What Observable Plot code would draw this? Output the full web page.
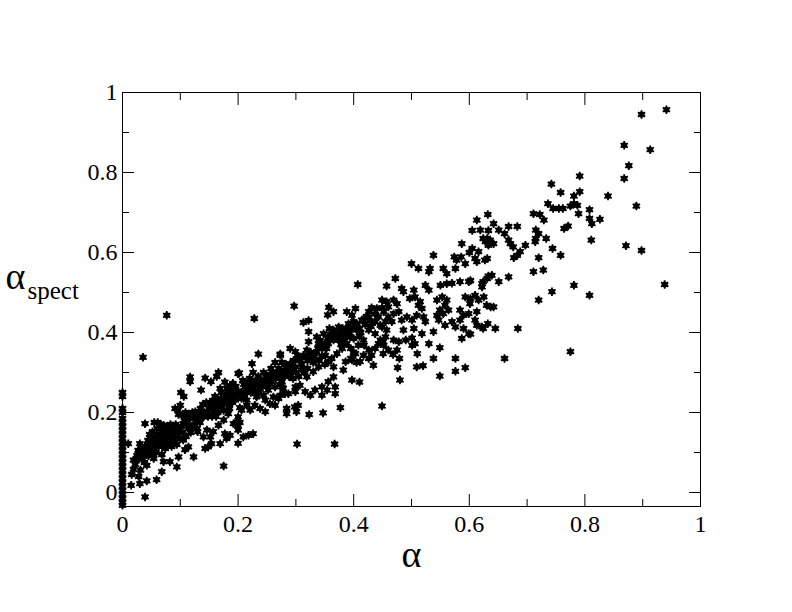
<!DOCTYPE html>
<html>
<head>
<meta charset="utf-8">
<script src="https://cdn.jsdelivr.net/npm/d3@7"></script>
<script src="https://cdn.jsdelivr.net/npm/@observablehq/plot@0.6"></script>
<style>
  html, body { margin: 0; padding: 0; background: #fff; }
</style>
</head>
<body>
<div id="chart"></div>
<script>
// alpha = 0 column: alpha_spect values
const zeroAlphaSpect = [0.25,0.24,0.21,0.20,0.185,0.175,0.165,0.155,0.145,0.135,0.125,0.115,0.105,0.095,0.085,0.075,0.065,0.055,0.045,0.035,0.025,0.015,0.005,-0.005,-0.015,-0.025,-0.032];

// [alpha, alpha_spect] pairs, grouped by alpha range
const lowLeft = [
[0.010,0.122],[0.015,0.018],[0.016,0.045],[0.019,0.081],[0.019,0.058],[0.022,0.07],[0.025,0.092],[0.028,0.04],[0.030,0.122],[0.030,0.022],[0.031,0.056],[0.033,0.085],[0.035,0.1],[0.0355,0.338],[0.038,0.075],[0.039,-0.011],[0.039,0.172],[0.040,0.112],[0.042,0.029],[0.042,0.068],[0.044,0.13],[0.045,0.092],[0.047,0.145],[0.048,0.105],[0.050,0.12],[0.052,0.152],[0.054,0.085],[0.055,0.175],[0.056,0.135],[0.058,0.1],[0.059,0.032],[0.060,0.16],[0.061,0.175],[0.062,0.115],[0.064,0.145],[0.066,0.125],[0.068,0.052],[0.068,0.095],[0.070,0.155],[0.071,0.077],[0.072,0.135],[0.074,0.11],[0.0765,0.443],[0.076,0.165],[0.078,0.125],[0.080,0.145],[0.082,0.077],[0.083,0.17],[0.085,0.115],[0.086,0.135],[0.088,0.155],[0.090,0.125],[0.091,0.21],[0.092,0.17],[0.093,0.15],[0.094,0.064],[0.095,0.14],[0.096,0.206],[0.097,0.089],[0.097,0.195],[0.098,0.16],[0.1,0.218],
[0.024,0.08],[0.027,0.105],[0.032,0.115],[0.036,0.09],[0.041,0.1],[0.043,0.12],[0.046,0.11],[0.049,0.135],[0.051,0.095],[0.053,0.11],[0.057,0.125],[0.059,0.145],[0.063,0.13],[0.065,0.16],[0.067,0.14],[0.069,0.115],[0.073,0.145],[0.075,0.12],[0.077,0.15],[0.079,0.135],[0.081,0.16],[0.084,0.145],[0.087,0.125],[0.089,0.14],[0.091,0.16],[0.094,0.12],[0.096,0.15],[0.099,0.135],[0.066,0.17],[0.071,0.168]
];

const band1 = [
[0.101,0.25],[0.106,0.24],[0.105,0.193],[0.105,0.172],[0.105,0.131],[0.108,0.107],[0.114,0.195],[0.114,0.16],[0.114,0.114],[0.117,0.289],[0.117,0.277],[0.12,0.164],[0.123,0.185],[0.123,0.089],[0.126,0.202],[0.13,0.152],[0.131,0.18],[0.135,0.21],[0.136,0.256],[0.14,0.189],[0.14,0.139],[0.143,0.286],[0.143,0.11],[0.145,0.225],[0.146,0.202],[0.146,0.156],[0.148,0.114],[0.152,0.218],[0.152,0.139],[0.153,0.277],[0.154,0.122],[0.155,0.19],[0.157,0.202],[0.157,0.152],[0.16,0.24],[0.163,0.29],[0.163,0.227],[0.165,0.2],[0.166,0.3],[0.166,0.168],[0.169,0.26],[0.169,0.122],[0.17,0.235],[0.172,0.218],[0.175,0.181],[0.175,0.205],[0.175,0.066],[0.177,0.276],[0.177,0.235],[0.177,0.147],[0.18,0.135],[0.183,0.222],[0.183,0.197],[0.185,0.21],[0.186,0.266],[0.186,0.143],[0.189,0.243],[0.19,0.225],[0.191,0.273],[0.192,0.172],[0.195,0.231],[0.198,0.176],[0.2,0.297],[0.2,0.252],[0.2,0.189],[0.2,0.168],[0.2,0.156],[0.2,0.123],[0.203,0.175],
[0.102,0.165],[0.104,0.15],[0.107,0.18],[0.109,0.2],[0.11,0.14],[0.112,0.175],[0.116,0.185],[0.118,0.15],[0.121,0.2],[0.124,0.17],[0.127,0.19],[0.129,0.16],[0.132,0.2],[0.134,0.175],[0.137,0.19],[0.139,0.22],[0.142,0.2],[0.148,0.19],[0.15,0.21],[0.156,0.23],[0.159,0.215],[0.162,0.19],[0.167,0.215],[0.171,0.25],[0.174,0.225],[0.179,0.245],[0.181,0.26],[0.184,0.235],[0.188,0.255],[0.193,0.245],[0.196,0.265],[0.198,0.24]
];

const band2 = [
[0.202,0.299],[0.203,0.212],[0.206,0.235],[0.206,0.206],[0.209,0.139],[0.21,0.27],[0.212,0.264],[0.215,0.218],[0.215,0.231],[0.218,0.26],[0.218,0.143],[0.22,0.285],[0.221,0.206],[0.224,0.322],[0.224,0.272],[0.226,0.3],[0.226,0.147],[0.228,0.435],[0.229,0.247],[0.229,0.218],[0.23,0.28],[0.232,0.239],[0.235,0.346],[0.235,0.29],[0.238,0.26],[0.238,0.21],[0.24,0.265],[0.244,0.243],[0.244,0.3],[0.247,0.202],[0.247,0.231],[0.25,0.28],[0.252,0.256],[0.255,0.295],[0.255,0.222],[0.257,0.31],[0.258,0.277],[0.26,0.3],[0.261,0.239],[0.264,0.325],[0.264,0.264],[0.264,0.218],[0.265,0.285],[0.27,0.289],[0.27,0.31],[0.27,0.235],[0.273,0.346],[0.273,0.343],[0.273,0.297],[0.273,0.243],[0.276,0.325],[0.276,0.277],[0.276,0.264],[0.278,0.26],[0.28,0.29],[0.281,0.306],[0.281,0.247],[0.284,0.21],[0.284,0.197],[0.285,0.31],[0.287,0.247],[0.29,0.36],[0.29,0.322],[0.29,0.3],[0.295,0.285],[0.297,0.466],[0.298,0.214],[0.299,0.352],[0.299,0.314],[0.299,0.264],[0.299,0.252],
[0.205,0.25],[0.208,0.28],[0.211,0.245],[0.214,0.255],[0.217,0.275],[0.222,0.25],[0.227,0.26],[0.233,0.27],[0.236,0.25],[0.241,0.28],[0.246,0.27],[0.249,0.29],[0.253,0.265],[0.256,0.28],[0.262,0.29],[0.267,0.3],[0.272,0.27],[0.279,0.3],[0.283,0.32],[0.288,0.29],[0.292,0.31],[0.296,0.33]
];

const band3 = [
[0.3,0.3],[0.301,0.202],[0.302,0.121],[0.303,0.335],[0.304,0.218],[0.305,0.29],[0.305,0.34],[0.307,0.268],[0.31,0.306],[0.31,0.32],[0.313,0.425],[0.313,0.343],[0.315,0.3],[0.316,0.252],[0.319,0.356],[0.319,0.289],[0.32,0.31],[0.32,0.33],[0.322,0.43],[0.322,0.402],[0.322,0.377],[0.323,0.195],[0.325,0.243],[0.328,0.339],[0.33,0.302],[0.33,0.325],[0.333,0.256],[0.336,0.389],[0.336,0.352],[0.339,0.372],[0.339,0.314],[0.34,0.33],[0.345,0.36],[0.345,0.264],[0.345,0.243],[0.345,0.34],[0.347,0.199],[0.348,0.397],[0.35,0.32],[0.351,0.343],[0.354,0.256],[0.355,0.444],[0.355,0.385],[0.356,0.372],[0.356,0.327],[0.356,0.277],[0.357,0.463],[0.36,0.395],[0.362,0.335],[0.365,0.452],[0.365,0.406],[0.365,0.381],[0.365,0.314],[0.365,0.289],[0.367,0.121],[0.368,0.264],[0.368,0.247],[0.37,0.39],[0.371,0.347],[0.374,0.414],[0.374,0.381],[0.377,0.212],[0.378,0.37],[0.38,0.36],[0.382,0.402],[0.382,0.306],[0.385,0.39],[0.386,0.327],[0.388,0.452],[0.388,0.372],[0.391,0.422],[0.392,0.4],[0.395,0.36],[0.395,0.335],[0.397,0.443],[0.397,0.331],[0.397,0.281],[0.4,0.427],[0.4,0.385],[0.4,0.35],
[0.308,0.33],[0.312,0.31],[0.318,0.34],[0.326,0.35],[0.332,0.34],[0.338,0.36],[0.342,0.38],[0.349,0.37],[0.353,0.36],[0.358,0.41],[0.363,0.39],[0.367,0.4],[0.372,0.4],[0.376,0.39],[0.381,0.41],[0.384,0.38],[0.389,0.41],[0.393,0.39],[0.398,0.41]
];

const band4 = [
[0.403,0.46],[0.403,0.347],[0.405,0.406],[0.405,0.325],[0.407,0.52],[0.408,0.368],[0.41,0.39],[0.41,0.41],[0.41,0.276],[0.411,0.327],[0.414,0.431],[0.417,0.381],[0.417,0.343],[0.418,0.368],[0.42,0.42],[0.426,0.452],[0.426,0.439],[0.426,0.406],[0.426,0.356],[0.426,0.335],[0.43,0.415],[0.431,0.462],[0.431,0.343],[0.434,0.318],[0.437,0.446],[0.437,0.427],[0.437,0.397],[0.437,0.36],[0.44,0.46],[0.443,0.439],[0.443,0.372],[0.446,0.418],[0.446,0.381],[0.449,0.481],[0.449,0.462],[0.449,0.414],[0.449,0.216],[0.451,0.377],[0.451,0.347],[0.452,0.452],[0.452,0.368],[0.455,0.427],[0.455,0.389],[0.457,0.516],[0.457,0.477],[0.457,0.406],[0.46,0.464],[0.46,0.439],[0.46,0.356],[0.466,0.427],[0.468,0.345],[0.469,0.481],[0.469,0.447],[0.469,0.381],[0.472,0.535],[0.475,0.472],[0.475,0.356],[0.476,0.312],[0.478,0.452],[0.478,0.377],[0.479,0.335],[0.48,0.281],[0.483,0.51],[0.483,0.431],[0.486,0.502],[0.486,0.406],[0.49,0.381],[0.492,0.439],[0.497,0.485],
[0.406,0.42],[0.412,0.4],[0.416,0.43],[0.422,0.44],[0.428,0.43]
];

const band5 = [
[0.5,0.572],[0.501,0.431],[0.501,0.386],[0.501,0.368],[0.504,0.506],[0.504,0.41],[0.506,0.489],[0.506,0.372],[0.509,0.443],[0.509,0.314],[0.51,0.347],[0.512,0.56],[0.512,0.468],[0.515,0.477],[0.518,0.46],[0.518,0.397],[0.52,0.317],[0.521,0.439],[0.524,0.518],[0.524,0.427],[0.53,0.552],[0.53,0.506],[0.53,0.372],[0.532,0.56],[0.538,0.335],[0.538,0.593],[0.538,0.402],[0.544,0.481],[0.544,0.443],[0.547,0.431],[0.549,0.456],[0.549,0.362],[0.549,0.291],[0.55,0.518],[0.553,0.489],[0.555,0.56],[0.555,0.447],[0.558,0.468],[0.558,0.418],[0.561,0.547],[0.561,0.522],[0.561,0.481],[0.564,0.456],[0.57,0.523],[0.57,0.427],[0.574,0.589],[0.576,0.56],[0.576,0.414],[0.576,0.335],[0.576,0.303],[0.578,0.581],[0.584,0.527],[0.584,0.456],[0.584,0.431],[0.586,0.589],[0.587,0.622],[0.587,0.385],[0.59,0.443],[0.59,0.41],[0.593,0.572],[0.593,0.489],[0.593,0.312],[0.599,0.527],[0.599,0.447],[0.599,0.397]
];

const band6 = [
[0.6,0.6],[0.601,0.472],[0.602,0.53],[0.602,0.485],[0.602,0.396],[0.605,0.655],[0.605,0.61],[0.61,0.585],[0.61,0.493],[0.61,0.431],[0.613,0.681],[0.613,0.577],[0.613,0.452],[0.613,0.418],[0.616,0.602],[0.616,0.481],[0.619,0.656],[0.622,0.522],[0.622,0.514],[0.622,0.414],[0.624,0.635],[0.624,0.527],[0.624,0.41],[0.625,0.489],[0.627,0.581],[0.628,0.627],[0.63,0.468],[0.631,0.635],[0.631,0.585],[0.631,0.535],[0.632,0.695],[0.632,0.422],[0.633,0.655],[0.633,0.618],[0.633,0.541],[0.636,0.631],[0.637,0.464],[0.639,0.543],[0.642,0.672],[0.642,0.622],[0.642,0.464],[0.645,0.41],[0.651,0.656],[0.651,0.527],[0.661,0.647],[0.661,0.335],[0.668,0.665],[0.668,0.631],[0.668,0.539],[0.671,0.622],[0.676,0.614],[0.677,0.587],[0.683,0.665],[0.683,0.593],[0.684,0.41],[0.688,0.602],[0.697,0.618]
];

const band7 = [
[0.711,0.697],[0.711,0.552],[0.714,0.627],[0.715,0.656],[0.715,0.635],[0.72,0.647],[0.72,0.587],[0.72,0.481],[0.722,0.695],[0.728,0.556],[0.729,0.681],[0.733,0.635],[0.736,0.722],[0.742,0.771],[0.743,0.502],[0.744,0.61],[0.745,0.71],[0.755,0.71],[0.758,0.75],[0.758,0.593],[0.762,0.71],[0.764,0.66],[0.771,0.666],[0.775,0.716],[0.775,0.352],[0.781,0.722],[0.781,0.741],[0.781,0.518],[0.787,0.718],[0.789,0.697],[0.791,0.791],[0.791,0.752],[0.808,0.707],[0.808,0.685],[0.808,0.493],[0.812,0.672],[0.811,0.631],[0.826,0.683],[0.84,0.741],[0.868,0.868],[0.868,0.785],[0.871,0.617],[0.876,0.817],[0.889,0.716],[0.898,0.945],[0.898,0.605],[0.913,0.857],[0.938,0.52],[0.941,0.957]
];

const majorTicks = [0, 0.2, 0.4, 0.6, 0.8, 1];
const minorTicks = [0.1, 0.3, 0.5, 0.7, 0.9];
const tickLabels = ["0", "0.2", "0.4", "0.6", "0.8", "1"];
const xTitle = "α";
const yTitle = "α";
const ySubscript = "spect";

const points = [
  ...zeroAlphaSpect.map(v => [0, v]),
  ...lowLeft, ...band1, ...band2, ...band3, ...band4, ...band5, ...band6, ...band7
];

const fmt = d => tickLabels[majorTicks.indexOf(d)];
const blank = () => "";

const chart = Plot.plot({
  width: 792,
  height: 612,
  marginLeft: 122,
  marginRight: 92,
  marginTop: 92,
  marginBottom: 106,
  x: {domain: [0, 1]},
  y: {domain: [-0.035, 1]},
  marks: [
    // inward ticks on all four sides
    Plot.axisX(majorTicks, {anchor: "bottom", tickSize: -12, tickFormat: blank, label: null}),
    Plot.axisX(minorTicks, {anchor: "bottom", tickSize: -7, tickFormat: blank, label: null}),
    Plot.axisX(majorTicks, {anchor: "top", tickSize: -12, tickFormat: blank, label: null}),
    Plot.axisX(minorTicks, {anchor: "top", tickSize: -7, tickFormat: blank, label: null}),
    Plot.axisY(majorTicks, {anchor: "left", tickSize: -12, tickFormat: blank, label: null}),
    Plot.axisY(minorTicks, {anchor: "left", tickSize: -7, tickFormat: blank, label: null}),
    Plot.axisY(majorTicks, {anchor: "right", tickSize: -12, tickFormat: blank, label: null}),
    Plot.axisY(minorTicks, {anchor: "right", tickSize: -7, tickFormat: blank, label: null}),
    // tick labels
    Plot.axisX(majorTicks, {anchor: "bottom", tickSize: 0, tickPadding: 8, tickFormat: fmt, fontSize: 24, label: null}),
    Plot.axisY(majorTicks, {anchor: "left", tickSize: 0, tickPadding: 5, tickFormat: fmt, fontSize: 24, label: null}),
    Plot.frame({stroke: "black", strokeWidth: 1}),
    // points
    Plot.dot(points, {x: d => d[0], y: d => d[1], r: 3, fill: "black", stroke: "none"}),
    Plot.dot(points, {x: d => d[0], y: d => d[1], r: 4, symbol: "asterisk", stroke: "black", strokeWidth: 1.8, fill: "none"}),
    // axis titles
    Plot.text([yTitle], {text: d => d, frameAnchor: "left", dx: -117, dy: -11, textAnchor: "start", lineAnchor: "bottom", fontSize: 38}),
    Plot.text([ySubscript], {text: d => d, frameAnchor: "left", dx: -95, dy: -1, textAnchor: "start", lineAnchor: "bottom", fontSize: 25}),
    Plot.text([xTitle], {text: d => d, frameAnchor: "bottom", dy: 60, textAnchor: "middle", lineAnchor: "bottom", fontSize: 38})
  ]
});

// serif typeface for every text, carried inside the SVG itself
const innerStyle = document.createElementNS("http://www.w3.org/2000/svg", "style");
innerStyle.textContent = "text { font-family: 'Liberation Serif' !important; }";
chart.insertBefore(innerStyle, chart.firstChild);
document.getElementById("chart").appendChild(chart);
chart.querySelectorAll("text").forEach(t => { t.style.fontFamily = "'Liberation Serif'"; });
</script>
</body>
</html>
